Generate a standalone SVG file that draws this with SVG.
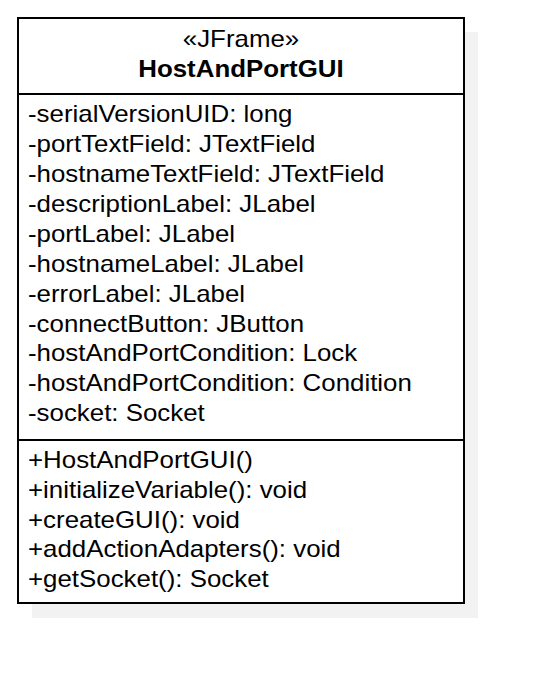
<svg xmlns="http://www.w3.org/2000/svg" width="546" height="686" viewBox="0 0 546 686">
<style>
.t{font-family:"Liberation Sans",Arial,sans-serif;font-size:23px;fill:#000}
.b{font-weight:bold}
.box{fill:#fff;stroke:#000;stroke-width:2}
.sep{stroke:#000;stroke-width:2}
</style>
<rect width="546" height="686" fill="#fff"/>
<g id="HostAndPortGUI">
<rect x="32" y="32" width="446" height="586" fill="#f2f2f2"/>
<rect class="box" x="18" y="18" width="446" height="585"/>
<line class="sep" x1="18" y1="94" x2="464" y2="94"/>
<line class="sep" x1="18" y1="440" x2="464" y2="440"/>
<g transform="scale(1.125,1)">
<text class="t" x="214.22" y="47" text-anchor="middle">«JFrame»</text>
<text class="t b" x="214.22" y="77" text-anchor="middle">HostAndPortGUI</text>
<text class="t" x="24.89" y="122">-serialVersionUID: long</text>
<text class="t" x="24.89" y="152">-portTextField: JTextField</text>
<text class="t" x="24.89" y="182">-hostnameTextField: JTextField</text>
<text class="t" x="24.89" y="212">-descriptionLabel: JLabel</text>
<text class="t" x="24.89" y="242">-portLabel: JLabel</text>
<text class="t" x="24.89" y="272">-hostnameLabel: JLabel</text>
<text class="t" x="24.89" y="302">-errorLabel: JLabel</text>
<text class="t" x="24.89" y="332">-connectButton: JButton</text>
<text class="t" x="24.89" y="361">-hostAndPortCondition: Lock</text>
<text class="t" x="24.89" y="391">-hostAndPortCondition: Condition</text>
<text class="t" x="24.89" y="421">-socket: Socket</text>
<text class="t" x="24.89" y="468">+HostAndPortGUI()</text>
<text class="t" x="24.89" y="498">+initializeVariable(): void</text>
<text class="t" x="24.89" y="528">+createGUI(): void</text>
<text class="t" x="24.89" y="557">+addActionAdapters(): void</text>
<text class="t" x="24.89" y="587">+getSocket(): Socket</text>
</g>
</g>
</svg>
